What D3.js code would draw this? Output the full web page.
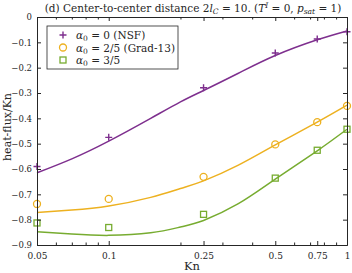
<!DOCTYPE html>
<html>
<head>
<meta charset="utf-8">
<script src="https://cdn.jsdelivr.net/npm/d3@7"></script>
<style>
  body { margin: 0; background: #fff; }
  text { font-family: "DejaVu Serif", "Liberation Serif", serif; fill: #262626; }
</style>
</head>
<body>
<div id="chart"></div>
<script>
// measured points
var knPts = [0.05, 0.1, 0.25, 0.5, 0.75, 1];
var nsfPts = [-0.59, -0.475, -0.279, -0.142, -0.087, -0.058];
var grad13Pts = [-0.738, -0.718, -0.631, -0.503, -0.415, -0.351];
var alpha35Pts = [-0.813, -0.831, -0.779, -0.636, -0.526, -0.443];

// fitted curves
var knLine = [0.05, 0.07, 0.1, 0.15, 0.2, 0.25, 0.35, 0.5, 0.75, 1];
var nsfLine = [-0.615, -0.56, -0.49, -0.40, -0.335, -0.29, -0.222, -0.152, -0.09, -0.055];
var grad13Line = [-0.772, -0.762, -0.746, -0.712, -0.677, -0.647, -0.585, -0.505, -0.415, -0.348];
var alpha35Line = [-0.848, -0.857, -0.862, -0.852, -0.829, -0.803, -0.737, -0.64, -0.528, -0.443];

var xTicks = [0.05, 0.1, 0.25, 0.5, 0.75, 1];
var xMinor = [0.06, 0.07, 0.08, 0.09, 0.2, 0.3, 0.4, 0.6, 0.7, 0.8, 0.9];
var yTicks = [0, -0.1, -0.2, -0.3, -0.4, -0.5, -0.6, -0.7, -0.8, -0.9];

var series = [
  {name: "0 (NSF)", pts: nsfPts, line: nsfLine, color: "#7E2F8E", marker: "plus"},
  {name: "2/5 (Grad-13)", pts: grad13Pts, line: grad13Line, color: "#EDB120", marker: "circle"},
  {name: "3/5", pts: alpha35Pts, line: alpha35Line, color: "#77AC30", marker: "square"}
];

var svgWidth = 352;
var svgHeight = 273;
var margin = {top: 17, right: 5, bottom: 28, left: 37};
var width = svgWidth - margin.left - margin.right;
var height = svgHeight - margin.top - margin.bottom;

var svg = d3.select("#chart")
    .append("svg")
    .attr("width", svgWidth)
    .attr("height", svgHeight);

var chartGroup = svg.append("g")
    .attr("transform", `translate(${margin.left}, ${margin.top})`);

var x = d3.scaleLog().domain([0.05, 1]).range([0, width]);
var y = d3.scaleLinear().domain([-0.9, 0]).range([height, 0]);

// curves
var line = d3.line()
    .x(d => x(d[0]))
    .y(d => y(d[1]))
    .curve(d3.curveNatural);

series.forEach(s => {
    chartGroup.append("path")
        .datum(knLine.map((k, i) => [k, s.line[i]]))
        .attr("d", line)
        .attr("fill", "none")
        .attr("stroke", s.color)
        .attr("stroke-width", 1.5);
});

function drawMarker(g, type, color) {
    if (type === "plus") {
        g.append("path").attr("d", "M-3.5,0H3.5M0,-3.5V3.5")
            .attr("stroke", color).attr("stroke-width", 1.4).attr("fill", "none");
    } else if (type === "circle") {
        g.append("circle").attr("r", 3.5)
            .attr("stroke", color).attr("stroke-width", 1.3).attr("fill", "none");
    } else {
        g.append("rect").attr("x", -3).attr("y", -3).attr("width", 6).attr("height", 6)
            .attr("stroke", color).attr("stroke-width", 1.3).attr("fill", "none");
    }
}

series.forEach(s => {
    knPts.forEach((k, i) => {
        var g = chartGroup.append("g")
            .attr("transform", `translate(${x(k)}, ${y(s.pts[i])})`);
        drawMarker(g, s.marker, s.color);
    });
});

// axes box with inward ticks
var axisColor = "#262626";
function styleAxis(g) {
    g.select(".domain").attr("stroke", axisColor);
    g.selectAll(".tick line").attr("stroke", axisColor);
    g.selectAll(".tick text").attr("fill", axisColor)
        .style("font-family", "'DejaVu Serif', 'Liberation Serif', serif")
        .style("font-size", "9px");
}

var bottom = chartGroup.append("g")
    .attr("transform", `translate(0, ${height})`)
    .call(d3.axisBottom(x).tickValues(xTicks).tickSizeInner(-4).tickSizeOuter(0)
        .tickPadding(8).tickFormat(d3.format("")));
styleAxis(bottom);
chartGroup.append("g")
    .call(d3.axisTop(x).tickValues(xTicks).tickSizeInner(-4).tickSizeOuter(0).tickFormat(""))
    .call(styleAxis);
chartGroup.append("g")
    .attr("transform", `translate(0, ${height})`)
    .call(d3.axisBottom(x).tickValues(xMinor).tickSizeInner(-2.5).tickSizeOuter(0).tickFormat(""))
    .call(styleAxis);
chartGroup.append("g")
    .call(d3.axisTop(x).tickValues(xMinor).tickSizeInner(-2.5).tickSizeOuter(0).tickFormat(""))
    .call(styleAxis);

var left = chartGroup.append("g")
    .call(d3.axisLeft(y).tickValues(yTicks).tickSizeInner(-4).tickSizeOuter(0)
        .tickPadding(5).tickFormat(d => d === 0 ? "0" : d3.format(".1f")(d)));
styleAxis(left);
left.selectAll(".tick text").style("font-size", "8.5px");
chartGroup.append("g")
    .attr("transform", `translate(${width}, 0)`)
    .call(d3.axisRight(y).tickValues(yTicks).tickSizeInner(-4).tickSizeOuter(0).tickFormat(""))
    .call(styleAxis);

// axis labels
chartGroup.append("text")
    .attr("transform", "rotate(-90)")
    .attr("x", -height / 2 + 4)
    .attr("y", -26)
    .attr("text-anchor", "middle")
    .style("font-size", "11px")
    .text("heat-flux/Kn");

chartGroup.append("text")
    .attr("x", width / 2)
    .attr("y", height + 25)
    .attr("text-anchor", "middle")
    .style("font-size", "11.5px")
    .text("Kn");

// title
var title = svg.append("text")
    .attr("x", 193)
    .attr("y", 12)
    .attr("text-anchor", "middle")
    .style("font-size", "10.5px");
title.append("tspan").text("(d) Center-to-center distance 2");
title.append("tspan").style("font-style", "italic").text("l");
title.append("tspan").style("font-style", "italic").style("font-size", "7.5px").attr("dy", 2).text("C");
title.append("tspan").attr("dy", -2).text(" = 10.  (");
title.append("tspan").style("font-style", "italic").text("T");
title.append("tspan").style("font-style", "italic").style("font-size", "7.5px").attr("dy", -4).text("I");
title.append("tspan").attr("dy", 4).text(" = 0, ");
title.append("tspan").style("font-style", "italic").text("p");
title.append("tspan").style("font-style", "italic").style("font-size", "7.5px").attr("dy", 2).text("sat");
title.append("tspan").attr("dy", -2).text(" = 1)");

// legend
var legend = svg.append("g").attr("transform", "translate(47, 26)");
legend.append("rect")
    .attr("width", 131).attr("height", 43)
    .attr("fill", "#fff").attr("stroke", "#262626").attr("stroke-width", 0.8);
series.forEach((s, i) => {
    var row = legend.append("g").attr("transform", `translate(0, ${9 + i * 12.5})`);
    drawMarker(row.append("g").attr("transform", "translate(16, 0)"), s.marker, s.color);
    var t = row.append("text").attr("x", 29).attr("y", 4)
        .style("font-size", "10.5px");
    t.append("tspan").style("font-style", "italic").text("α");
    t.append("tspan").style("font-size", "7.5px").attr("dy", 2).text("0");
    t.append("tspan").attr("dy", -2).text(" = " + s.name);
});
</script>
</body>
</html>
